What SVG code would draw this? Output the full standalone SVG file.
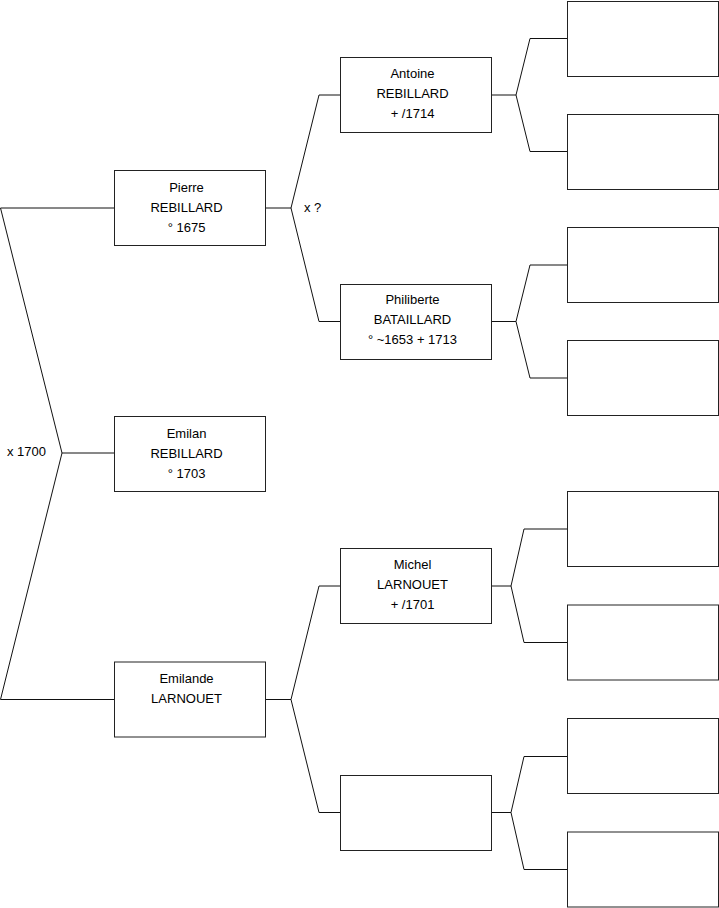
<svg xmlns="http://www.w3.org/2000/svg" width="719" height="908" viewBox="0 0 719 908">
<style>
rect.box{fill:#fff;stroke:#222;stroke-width:1}
.c{fill:none;stroke:#111;stroke-width:1}
text{font-family:"Liberation Sans",Arial,sans-serif;font-size:13px;fill:#000}
.m{text-anchor:middle}
</style>
<rect width="719" height="908" fill="#fff"/>
<g id="connectors">
<polyline class="c" points="114.5,208 0.5,208 62,453 0.5,699.5 114.5,699.5"/>
<line class="c" x1="62" y1="453" x2="114.5" y2="453"/>
<line class="c" x1="265.5" y1="208" x2="291" y2="208"/>
<polyline class="c" points="340.5,95 319,95 291,208 319,321.5 340.5,321.5"/>
<line class="c" x1="265.5" y1="699.5" x2="291" y2="699.5"/>
<polyline class="c" points="340.5,586 319,586 291,699.5 319,812.5 340.5,812.5"/>
<line class="c" x1="491.5" y1="95" x2="516" y2="95"/>
<polyline class="c" points="567.5,38.5 530,38.5 516,95 530,151.5 567.5,151.5"/>
<line class="c" x1="491.5" y1="321.5" x2="516" y2="321.5"/>
<polyline class="c" points="567.5,265 530,265 516,321.5 530,378 567.5,378"/>
<line class="c" x1="491.5" y1="586" x2="511" y2="586"/>
<polyline class="c" points="567.5,529 524,529 511,586 524,642.5 567.5,642.5"/>
<line class="c" x1="491.5" y1="812.5" x2="511" y2="812.5"/>
<polyline class="c" points="567.5,756.5 524,756.5 511,812.5 524,869.5 567.5,869.5"/>
<text x="7" y="456">x 1700</text>
<text x="304" y="212">x ?</text>
</g>
<g id="pierre">
<rect class="box" x="114.5" y="170.5" width="151" height="75"/>
<text class="m" x="186.5" y="191.5">Pierre</text>
<text class="m" x="186.5" y="211.5">REBILLARD</text>
<text class="m" x="186.5" y="231.5">° 1675</text>
</g>
<g id="emilan">
<rect class="box" x="114.5" y="416.5" width="151" height="75"/>
<text class="m" x="186.5" y="437.5">Emilan</text>
<text class="m" x="186.5" y="457.5">REBILLARD</text>
<text class="m" x="186.5" y="477.5">° 1703</text>
</g>
<g id="emilande">
<rect class="box" x="114.5" y="662" width="151" height="75"/>
<text class="m" x="186.5" y="682.5">Emilande</text>
<text class="m" x="186.5" y="702.5">LARNOUET</text>
</g>
<g id="antoine">
<rect class="box" x="340.5" y="57.5" width="151" height="75"/>
<text class="m" x="412.5" y="78">Antoine</text>
<text class="m" x="412.5" y="98">REBILLARD</text>
<text class="m" x="412.5" y="118">+ /1714</text>
</g>
<g id="philiberte">
<rect class="box" x="340.5" y="284.5" width="151" height="75"/>
<text class="m" x="412.5" y="304">Philiberte</text>
<text class="m" x="412.5" y="324">BATAILLARD</text>
<text class="m" x="412.5" y="344">° ~1653 + 1713</text>
</g>
<g id="michel">
<rect class="box" x="340.5" y="548.5" width="151" height="75"/>
<text class="m" x="412.5" y="569">Michel</text>
<text class="m" x="412.5" y="589">LARNOUET</text>
<text class="m" x="412.5" y="609">+ /1701</text>
</g>
<g id="unknown-mother">
<rect class="box" x="340.5" y="775.5" width="151" height="75"/>
</g>
<g id="g3-1"><rect class="box" x="567.5" y="1.5" width="151" height="75"/></g>
<g id="g3-2"><rect class="box" x="567.5" y="114.5" width="151" height="75"/></g>
<g id="g3-3"><rect class="box" x="567.5" y="227.5" width="151" height="75"/></g>
<g id="g3-4"><rect class="box" x="567.5" y="340.5" width="151" height="75"/></g>
<g id="g3-5"><rect class="box" x="567.5" y="491.5" width="151" height="75"/></g>
<g id="g3-6"><rect class="box" x="567.5" y="605" width="151" height="75"/></g>
<g id="g3-7"><rect class="box" x="567.5" y="718.5" width="151" height="75"/></g>
<g id="g3-8"><rect class="box" x="567.5" y="832" width="151" height="75"/></g>
</svg>
